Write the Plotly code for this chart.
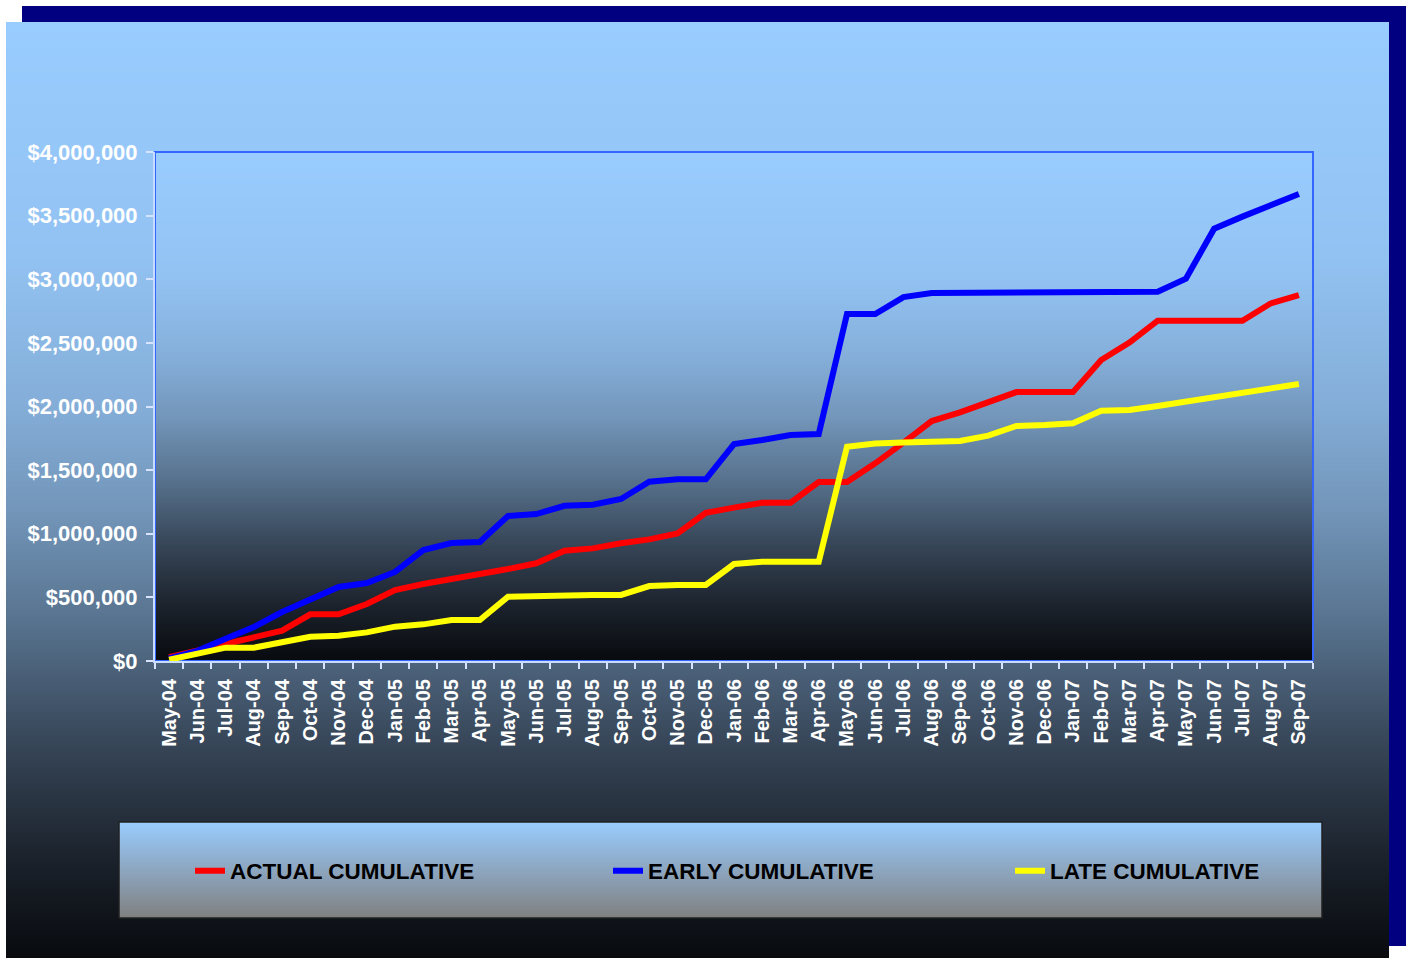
import base64
import struct
import zlib
import plotly.graph_objects as go

months = ["May-04","Jun-04","Jul-04","Aug-04","Sep-04","Oct-04","Nov-04","Dec-04",
          "Jan-05","Feb-05","Mar-05","Apr-05","May-05","Jun-05","Jul-05","Aug-05",
          "Sep-05","Oct-05","Nov-05","Dec-05","Jan-06","Feb-06","Mar-06","Apr-06",
          "May-06","Jun-06","Jul-06","Aug-06","Sep-06","Oct-06","Nov-06","Dec-06",
          "Jan-07","Feb-07","Mar-07","Apr-07","May-07","Jun-07","Jul-07","Aug-07","Sep-07"]

actual = [30000, 80000, 133000, 189000, 238000, 367000, 367000, 448000,
          558000, 605000, 650000, 684000, 723000, 768000, 867000, 885000,
          925000, 956000, 1003000, 1165000, 1205000, 1244000, 1244000, 1407000,
          1407000, 1553000, 1716000, 1886000, 1954000, 2033000, 2113000, 2113000,
          2113000, 2365000, 2502000, 2674000, 2674000, 2674000, 2674000, 2810000, 2876000]

early = [20000, 80000, 175000, 267000, 385000, 487000, 582000, 613000,
         700000, 872000, 927000, 935000, 1140000, 1155000, 1220000, 1228000,
         1273000, 1409000, 1428000, 1428000, 1705000, 1737000, 1776000, 1784000,
         2727000, 2727000, 2860000, 2892000, 2892000, 2892000, 2892000, 2892000,
         2892000, 2894000, 2902000, 2902000, 3005000, 3397000, 3492000, 3583000, 3670000]

late = [10000, 60000, 105000, 105000, 144000, 191000, 199000, 225000,
        270000, 288000, 322000, 322000, 505000, 511000, 519000, 519000,
        519000, 589000, 597000, 597000, 762000, 780000, 780000, 780000,
        1684000, 1710000, 1718000, 1729000, 1729000, 1771000, 1847000, 1855000,
        1868000, 1967000, 1973000, 2004000, 2038000, 2072000, 2109000, 2143000, 2177000]

series_names = ["ACTUAL CUMULATIVE", "EARLY CUMULATIVE", "LATE CUMULATIVE"]
series_colors = ["#FF0000", "#0000FF", "#FFFF00"]

W, H = 1406, 958
PL, PR, PT, PB = 155, 1313, 152, 661  # plot area in pixels

def px_x(px):
    return (px - PL) / (PR - PL)

def px_y(py):
    return (PB - py) / (PB - PT)

stops = [(0.0, (153, 204, 255)), (0.25, (146, 194, 242)), (0.40, (133, 175, 218)),
         (0.52, (115, 150, 186)), (0.64, (88, 115, 143)), (0.77, (55, 70, 88)),
         (0.89, (28, 35, 45)), (1.0, (8, 10, 14))]
legend_stops = [(0.0, (153, 204, 255)), (1.0, (128, 128, 128))]

def interp(t, st):
    for (t0, c0), (t1, c1) in zip(st[:-1], st[1:]):
        if t <= t1:
            f = (t - t0) / (t1 - t0)
            return tuple(int(round(a + (b - a) * f)) for a, b in zip(c0, c1))
    return st[-1][1]

def png_uri(rows, width=2):
    def chunk(tag, data):
        return struct.pack(">I", len(data)) + tag + data + struct.pack(">I", zlib.crc32(tag + data) & 0xffffffff)
    raw = b"".join(b"\x00" + bytes(c) * width for c in rows)
    png = (b"\x89PNG\r\n\x1a\n"
           + chunk(b"IHDR", struct.pack(">IIBBBBB", width, len(rows), 8, 2, 0, 0, 0))
           + chunk(b"IDAT", zlib.compress(raw, 9))
           + chunk(b"IEND", b""))
    return "data:image/png;base64," + base64.b64encode(png).decode()

images = []

def gradient_image(x0, y0, x1, y1, st):
    n = int(round(y1 - y0))
    rows = [interp((i + 0.5) / n, st) for i in range(n)]
    images.append(dict(source=png_uri(rows), xref="paper", yref="paper",
                       x=px_x(x0), y=px_y(y0), sizex=px_x(x1) - px_x(x0),
                       sizey=px_y(y0) - px_y(y1), xanchor="left", yanchor="top",
                       sizing="stretch", layer="below"))

# navy shadow frame
gradient_image(22, 6, 1406, 946, [(0.0, (0, 0, 128)), (1.0, (0, 0, 128))])
# main panel
gradient_image(6, 22, 1389, 958, stops)
# plot area
gradient_image(PL, PT, PR, PB, stops)
# legend box
gradient_image(119, 822, 1322, 918, legend_stops)

shapes = [
    dict(type="rect", xref="paper", yref="paper",
         x0=px_x(119), x1=px_x(1322), y0=px_y(822), y1=px_y(918),
         fillcolor="rgba(0,0,0,0)", layer="below", line=dict(width=1.5, color="#202020")),
    dict(type="rect", xref="paper", yref="paper", x0=0, x1=1, y0=0, y1=1,
         fillcolor="rgba(0,0,0,0)", layer="below", line=dict(width=2, color="#3366FF")),
]

fig = go.Figure()
legend_ids = ["legend", "legend2", "legend3"]
for name, vals, col, lg in zip(series_names, [actual, early, late], series_colors, legend_ids):
    fig.add_trace(go.Scatter(x=months, y=vals, mode="lines", name=name,
                             line=dict(color=col, width=6), legend=lg))

legend_font = dict(family="Arial, Liberation Sans, sans-serif", size=22.5, color="#000000", weight="bold")
leg_common = dict(xref="paper", yref="paper", xanchor="left", yanchor="middle",
                  y=px_y(871), bgcolor="rgba(0,0,0,0)", borderwidth=0, font=legend_font,
                  itemwidth=30)

xtick_font = dict(family="Arial, Liberation Sans, sans-serif", size=20, color="#FFFFFF", weight="bold")
ytick_font = dict(family="Arial, Liberation Sans, sans-serif", size=22, color="#FFFFFF", weight="bold")

fig.update_layout(
    width=W, height=H,
    margin=dict(l=PL, r=W - PR, t=PT, b=H - PB, pad=0, autoexpand=False),
    paper_bgcolor="#FFFFFF",
    plot_bgcolor="rgba(0,0,0,0)",
    images=images,
    shapes=shapes,
    showlegend=True,
    legend=dict(x=px_x(190), **leg_common),
    legend2=dict(x=px_x(608), **leg_common),
    legend3=dict(x=px_x(1010), **leg_common),
    xaxis=dict(type="category", range=[-0.5, len(months) - 0.5], tickangle=-90,
               tickfont=xtick_font, ticks="outside", tickson="boundaries", ticklen=6,
               tickcolor="#D8E4FF", tickwidth=2, showline=True, linecolor="#C8DCFF",
               linewidth=2, showgrid=False, zeroline=False, ticklabelstandoff=8,
               fixedrange=True, automargin=False),
    yaxis=dict(range=[0, 4000000], dtick=500000, tickformat="$,.0f", tickfont=ytick_font,
               ticks="outside", ticklen=7, tickcolor="#D8E4FF", tickwidth=2,
               showline=True, linecolor="#C8DCFF", linewidth=2, showgrid=False,
               zeroline=False, ticklabelstandoff=4, fixedrange=True, automargin=False),
)

fig.write_html("out.html", config={"displayModeBar": False},
               post_script="document.body.style.margin='0';document.body.style.overflow='hidden';")
